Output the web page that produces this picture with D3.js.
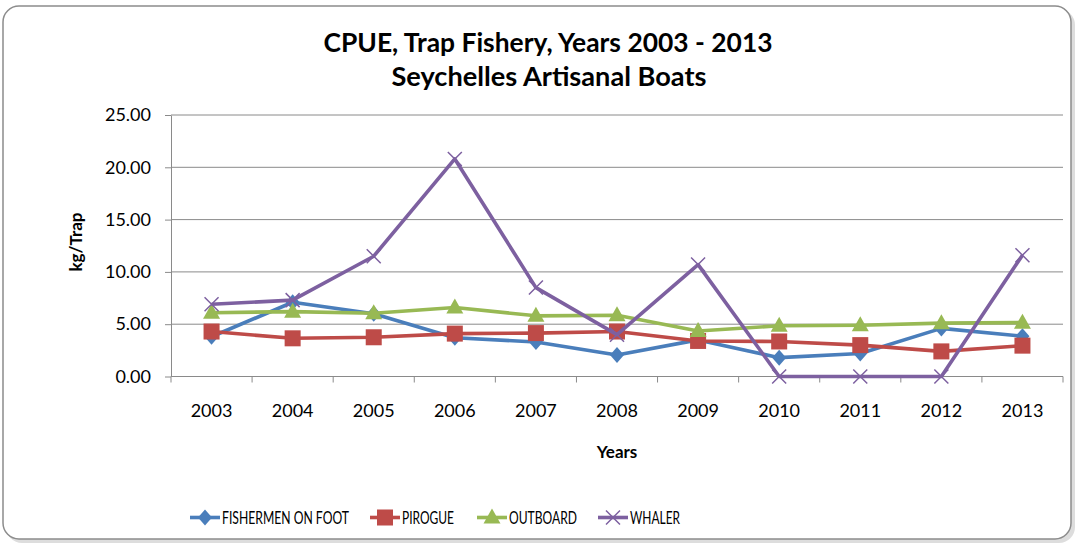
<!DOCTYPE html>
<html><head><meta charset="utf-8">
<script src="https://cdn.jsdelivr.net/npm/d3@7"></script>
<style>
html,body{margin:0;padding:0;background:#fff;}
text{font-family:Lato,"Open Sans",sans-serif;}
</style></head>
<body><svg id="c" width="1078" height="546"></svg>
<script>
const years = ["2003","2004","2005","2006","2007","2008","2009","2010","2011","2012","2013"];
const fishermenOnFoot = [3.8, 7.1, 6.0, 3.7, 3.3, 2.05, 3.5, 1.8, 2.2, 4.6, 3.85];
const pirogue = [4.3, 3.65, 3.75, 4.1, 4.15, 4.3, 3.4, 3.35, 3.0, 2.4, 2.95];
const outboard = [6.1, 6.2, 6.05, 6.6, 5.8, 5.85, 4.35, 4.85, 4.9, 5.1, 5.15];
const whaler = [6.9, 7.3, 11.5, 20.8, 8.5, 4.0, 10.7, 0, 0, 0, 11.6];
const yTicks = [0, 5, 10, 15, 20, 25];
const seriesNames = ["FISHERMEN ON FOOT", "PIROGUE", "OUTBOARD", "WHALER"];

(function(){
const series = [
  {name: seriesNames[0], values: fishermenOnFoot, color: "#4A7EBB", marker: "diamond"},
  {name: seriesNames[1], values: pirogue, color: "#BE4B48", marker: "square"},
  {name: seriesNames[2], values: outboard, color: "#98B954", marker: "triangle"},
  {name: seriesNames[3], values: whaler, color: "#7D60A0", marker: "x"}
];

const svg = d3.select("#c");
// frame with soft shadow
svg.append("rect").attr("x",6).attr("y",9).attr("width",1069).attr("height",534)
  .attr("rx",16).attr("fill","#cfcfcf").attr("opacity",0.7);
svg.append("rect").attr("x",3).attr("y",6).attr("width",1068).attr("height",533)
  .attr("rx",16).attr("fill","#fff").attr("stroke","#8c8c8c").attr("stroke-width",1.5);

const pL = 171, pR = 1063, pT = 115, pB = 376.5;
const x = d3.scaleBand().domain(years).range([pL, pR]);
const y = d3.scaleLinear().domain([0, 25]).range([pB, pT]);
const axisColor = "#8a8a8a";

// gridlines
svg.append("g").selectAll("line").data(yTicks.filter(d=>d>0)).join("line")
  .attr("x1", pL).attr("x2", pR).attr("y1", d=>y(d)).attr("y2", d=>y(d))
  .attr("stroke", axisColor).attr("stroke-width", 1);

// y axis
const yAxis = svg.append("g").attr("transform", `translate(${pL},0)`)
  .call(d3.axisLeft(y).tickValues(yTicks).tickFormat(d3.format(".2f")).tickSize(6).tickSizeOuter(0));
yAxis.select(".domain").attr("stroke",axisColor);
yAxis.selectAll(".tick line").attr("stroke",axisColor);
yAxis.selectAll("text").attr("font-size",18).attr("fill","#000").attr("x",-20)
  .style("font-family","Lato,sans-serif");

// x axis
const xg = svg.append("g").attr("transform", `translate(0,${pB})`);
xg.append("line").attr("x1",pL).attr("x2",pR).attr("y1",0).attr("y2",0).attr("stroke",axisColor);
const bounds = years.map(d=>x(d)).concat([pR]);
xg.selectAll("line.t").data(bounds).join("line").attr("class","t")
  .attr("x1",d=>d).attr("x2",d=>d).attr("y1",0).attr("y2",6).attr("stroke",axisColor);
xg.selectAll("text").data(years).join("text")
  .attr("x", d=>x(d)+x.bandwidth()/2).attr("y", 40.5)
  .attr("text-anchor","middle").attr("font-size",18).attr("fill","#000").text(d=>d);

// titles
svg.append("text").attr("x",548).attr("y",52).attr("text-anchor","middle")
  .attr("font-size",26).attr("font-weight","bold")
  .attr("textLength",449).attr("lengthAdjust","spacingAndGlyphs")
  .text("CPUE, Trap Fishery, Years 2003 - 2013");
svg.append("text").attr("x",549).attr("y",86).attr("text-anchor","middle")
  .attr("font-size",26).attr("font-weight","bold")
  .attr("textLength",315).attr("lengthAdjust","spacingAndGlyphs")
  .text("Seychelles Artisanal Boats");
svg.append("text").attr("x",(pL+pR)/2).attr("y",458).attr("text-anchor","middle")
  .attr("font-size",17).attr("font-weight","bold").text("Years");
svg.append("text").attr("transform","translate(82,242) rotate(-90)").attr("text-anchor","middle")
  .attr("font-size",17).attr("font-weight","bold").text("kg/Trap");

function drawMarker(g, type, cx, cy, color) {
  if (type === "diamond") {
    g.append("path").attr("d", `M${cx},${cy-8}L${cx+7},${cy}L${cx},${cy+8}L${cx-7},${cy}Z`).attr("fill", color);
  } else if (type === "square") {
    g.append("rect").attr("x", cx-8).attr("y", cy-8).attr("width",16).attr("height",16).attr("fill", color);
  } else if (type === "triangle") {
    g.append("path").attr("d", `M${cx},${cy-9}L${cx+8.5},${cy+6}L${cx-8.5},${cy+6}Z`).attr("fill", color);
  } else {
    g.append("path").attr("d", `M${cx-7},${cy-7}L${cx+7},${cy+7}M${cx+7},${cy-7}L${cx-7},${cy+7}`)
      .attr("stroke", color).attr("stroke-width",1.5);
  }
}

const line = d3.line().x((d,i)=>x(years[i])+x.bandwidth()/2).y(d=>y(d));
series.forEach(s => {
  const g = svg.append("g");
  g.append("path").datum(s.values).attr("d", line).attr("fill","none")
    .attr("stroke", s.color).attr("stroke-width",3.6).attr("stroke-linejoin","round");
  s.values.forEach((v,i)=> drawMarker(g, s.marker, x(years[i])+x.bandwidth()/2, y(v), s.color));
});

// legend
const legendX = [190, 370, 477, 598];
const legendW = [127, 52, 68, 50];
series.forEach((s,i)=>{
  const g = svg.append("g");
  const lx = legendX[i], ly = 517.5;
  g.append("line").attr("x1",lx).attr("x2",lx+30).attr("y1",ly).attr("y2",ly)
    .attr("stroke",s.color).attr("stroke-width",3.6);
  drawMarker(g, s.marker, lx+15, ly, s.color);
  g.append("text").attr("x",lx+32).attr("y",ly+6.5).attr("font-size",18).attr("fill","#000")
    .attr("textLength",legendW[i]).attr("lengthAdjust","spacingAndGlyphs").text(s.name);
});
})();
</script></body></html>
